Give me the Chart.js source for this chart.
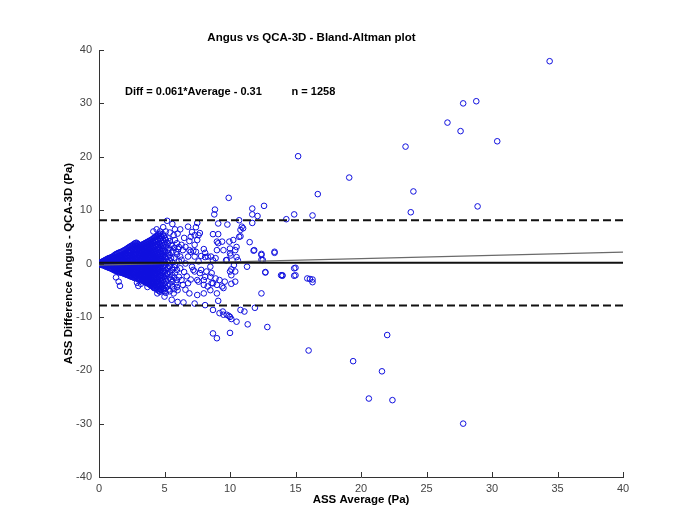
<!DOCTYPE html>
<html>
<head>
<meta charset="utf-8">
<script src="https://cdn.jsdelivr.net/npm/chart.js@4"></script>
<style>
  html, body { margin: 0; padding: 0; background: #ffffff; }
  #c { display: block; }
</style>
</head>
<body>
<canvas id="c" width="673" height="527"></canvas>
<script>
// ---- Data ----
const chartTitle = 'Angus vs QCA-3D - Bland-Altman plot';
const xTitle = 'ASS Average (Pa)';
const yTitle = 'ASS Difference Angus - QCA-3D (Pa)';
const fitLabel = 'Diff = 0.061*Average - 0.31';
const nLabel = 'n = 1258';
const fitLabelPos = [1.98, 32.06];
const nLabelPos = [14.7, 32.06];

const xTicks = [0, 5, 10, 15, 20, 25, 30, 35, 40];
const yTicks = [-40, -30, -20, -10, 0, 10, 20, 30, 40];

const meanDiff = 0.12;
const loaUpper = 8.12;
const loaLower = -7.88;
const fitSlope = 0.061;
const fitIntercept = -0.31;
const lineRange = [0, 40];

// dense cluster near the origin: [average, [differences...]]
const clusterCols = [
  [0.05, [0, 0.1, -0.1]],
  [0.15, [0.2, -0.2, 0]],
  [0.22, [0.15, -0.1, 0.3, -0.3]],
  [0.3, [0.4, -0.3, 0.1, -0.1]],
  [0.37, [0.5, 0.2, -0.05, -0.35]],
  [0.45, [0.6, -0.5, 0.2, -0.2]],
  [0.52, [0.7, 0.4, 0.05, -0.3, -0.55]],
  [0.6, [0.8, 0.3, -0.1, -0.6]],
  [0.67, [0.9, 0.55, 0.15, -0.3, -0.7]],
  [0.75, [1.0, 0.5, 0, -0.4, -0.8]],
  [0.82, [1.05, 0.75, 0.35, -0.15, -0.55, -0.85]],
  [0.9, [1.1, 0.6, 0.2, -0.3, -0.9]],
  [0.97, [1.2, 0.85, 0.4, -0.05, -0.5, -1.0]],
  [1.05, [1.3, 0.8, 0.3, -0.2, -0.6, -1.1]],
  [1.12, [1.4, 1.05, 0.55, 0.1, -0.35, -0.8, -1.2]],
  [1.2, [1.6, 1.0, 0.5, 0, -0.5, -1.0, -1.3]],
  [1.27, [1.7, 1.25, 0.75, 0.25, -0.25, -0.7, -1.15, -1.35]],
  [1.35, [1.8, 1.1, 0.6, 0.1, -0.4, -0.9, -1.4]],
  [1.42, [1.9, 1.35, 0.85, 0.35, -0.15, -0.65, -1.15, -1.5]],
  [1.5, [2.0, 1.3, 0.7, 0.2, -0.3, -0.8, -1.3, -1.6]],
  [1.57, [2.05, 1.55, 1.0, 0.45, -0.05, -0.55, -1.05, -1.45, -1.7]],
  [1.65, [2.1, 1.4, 0.9, 0.4, -0.1, -0.6, -1.1, -1.6]],
  [1.72, [2.2, 1.65, 1.15, 0.65, 0.15, -0.35, -0.85, -1.35, -1.7]],
  [1.8, [2.3, 1.5, 1.0, 0.5, 0, -0.5, -1.0, -1.5, -1.8]],
  [1.87, [2.4, 1.8, 1.25, 0.75, 0.25, -0.25, -0.75, -1.25, -1.65, -1.85]],
  [1.95, [2.5, 1.7, 1.2, 0.6, 0.1, -0.4, -0.9, -1.4, -1.9]],
  [2.02, [2.6, 2.0, 1.45, 0.9, 0.35, -0.15, -0.65, -1.15, -1.65, -2.0]],
  [2.1, [2.7, 2.0, 1.4, 0.8, 0.3, -0.2, -0.7, -1.2, -1.7, -2.1]],
  [2.17, [2.85, 2.3, 1.7, 1.1, 0.55, 0.05, -0.45, -0.95, -1.45, -1.9, -2.15]],
  [2.25, [2.95, 2.2, 1.6, 1.0, 0.4, -0.1, -0.6, -1.1, -1.6, -2.2]],
  [2.32, [3.1, 2.55, 1.95, 1.35, 0.75, 0.2, -0.3, -0.8, -1.3, -1.8, -2.3]],
  [2.4, [3.2, 2.5, 1.9, 1.3, 0.7, 0.1, -0.4, -0.9, -1.5, -2.0, -2.4]],
  [2.47, [3.3, 2.85, 2.2, 1.6, 1.0, 0.45, -0.1, -0.6, -1.15, -1.7, -2.2, -2.45]],
  [2.55, [3.4, 2.7, 2.0, 1.4, 0.8, 0.2, -0.3, -0.8, -1.4, -1.9, -2.5]],
  [2.62, [3.55, 3.1, 2.4, 1.75, 1.15, 0.55, 0.0, -0.5, -1.05, -1.6, -2.15, -2.6]],
  [2.7, [3.7, 3.0, 2.3, 1.6, 1.0, 0.4, -0.2, -0.7, -1.3, -1.9, -2.4, -2.7]],
  [2.77, [3.8, 3.35, 2.65, 1.95, 1.3, 0.7, 0.1, -0.45, -1.0, -1.6, -2.2, -2.6]],
  [2.85, [3.9, 3.2, 2.5, 1.8, 1.1, 0.5, -0.1, -0.7, -1.3, -1.9, -2.5]],
  [2.92, [3.75, 3.25, 2.55, 1.85, 1.2, 0.6, 0.0, -0.6, -1.2, -1.8, -2.4, -2.85]],
  [3.0, [3.6, 2.9, 2.2, 1.5, 0.9, 0.3, -0.3, -0.9, -1.5, -2.1, -2.7, -3.0]],
  [3.07, [3.5, 3.05, 2.35, 1.65, 1.0, 0.4, -0.2, -0.8, -1.4, -2.0, -2.6, -3.0]],
  [3.15, [3.4, 2.7, 2.0, 1.3, 0.7, 0.1, -0.5, -1.1, -1.7, -2.3, -2.9]],
  [3.22, [3.45, 3.1, 2.4, 1.7, 1.05, 0.45, -0.15, -0.75, -1.35, -1.95, -2.55, -3.05]],
  [3.3, [3.5, 2.8, 2.1, 1.4, 0.8, 0.2, -0.4, -1.0, -1.6, -2.2, -2.8, -3.2]],
  [3.37, [3.6, 3.15, 2.45, 1.75, 1.1, 0.5, -0.1, -0.7, -1.3, -1.9, -2.5, -3.1, -3.35]],
  [3.45, [3.7, 3.0, 2.3, 1.6, 0.9, 0.3, -0.3, -0.9, -1.5, -2.1, -2.7, -3.3]],
  [3.52, [3.8, 3.35, 2.65, 1.95, 1.25, 0.6, 0.0, -0.6, -1.2, -1.8, -2.4, -3.0, -3.5]],
  [3.6, [3.9, 3.2, 2.4, 1.7, 1.0, 0.4, -0.2, -0.8, -1.4, -2.0, -2.6, -3.2, -3.6]],
  [3.67, [4.0, 3.55, 2.8, 2.1, 1.4, 0.75, 0.15, -0.45, -1.05, -1.65, -2.25, -2.85, -3.45, -3.7]],
  [3.75, [4.1, 3.3, 2.6, 1.8, 1.1, 0.5, -0.1, -0.7, -1.3, -1.9, -2.5, -3.1, -3.7]],
  [3.82, [4.2, 3.7, 2.95, 2.2, 1.5, 0.85, 0.25, -0.35, -0.95, -1.55, -2.15, -2.75, -3.35, -3.85]],
  [3.9, [4.3, 3.5, 2.7, 1.9, 1.2, 0.6, 0, -0.6, -1.2, -1.8, -2.4, -3.0, -3.6, -4.0]],
  [3.97, [4.4, 3.9, 3.1, 2.35, 1.6, 0.95, 0.3, -0.35, -1.0, -1.65, -2.3, -2.95, -3.6, -4.1]],
  [4.05, [4.5, 3.6, 2.8, 2.0, 1.3, 0.6, -0.1, -0.8, -1.5, -2.2, -2.9, -3.6, -4.2]],
  [4.12, [4.65, 4.1, 3.25, 2.45, 1.7, 1.0, 0.3, -0.4, -1.1, -1.8, -2.5, -3.2, -3.85, -4.4]],
  [4.2, [4.8, 3.9, 3.0, 2.2, 1.4, 0.7, 0, -0.7, -1.4, -2.1, -2.8, -3.5, -4.1, -4.6]],
  [4.27, [4.9, 4.3, 3.45, 2.6, 1.8, 1.05, 0.35, -0.35, -1.05, -1.75, -2.45, -3.2, -3.95, -4.6]],
  [4.35, [5.0, 4.1, 3.2, 2.3, 1.5, 0.8, 0.1, -0.6, -1.3, -2.0, -2.8, -3.6, -4.4]],
  [4.42, [5.15, 4.5, 3.6, 2.75, 1.95, 1.2, 0.45, -0.3, -1.05, -1.85, -2.65, -3.45, -4.25, -4.9]],
  [4.5, [5.3, 4.3, 3.4, 2.5, 1.6, 0.8, 0, -0.8, -1.6, -2.4, -3.2, -4.0, -4.8]],
  [4.57, [5.45, 4.75, 3.85, 2.95, 2.1, 1.3, 0.5, -0.3, -1.1, -1.9, -2.7, -3.5, -4.3, -5.1]],
  [4.65, [5.6, 4.6, 3.6, 2.6, 1.7, 0.9, 0.1, -0.7, -1.5, -2.3, -3.1, -3.9, -4.7, -5.3]],
  [4.72, [5.2, 4.3, 3.3, 2.3, 1.35, 0.45, -0.45, -1.35, -2.25, -3.15, -4.05, -4.95]],
  [4.8, [4.9, 3.8, 2.8, 1.8, 0.9, 0, -0.9, -1.8, -2.7, -3.6, -4.5]],
  [4.87, [5.5, 4.4, 3.3, 2.25, 1.3, 0.4, -0.5, -1.4, -2.3, -3.2, -4.1, -5.1]],
  [4.95, [5.2, 3.9, 2.6, 1.5, 0.6, -0.4, -1.4, -2.5, -3.6, -4.8]],
  [5.02, [4.8, 3.6, 2.3, 1.2, 0.2, -0.8, -1.8, -2.9, -4.1, -5.2]],
  [5.1, [4.4, 3.1, 1.9, 0.8, -0.3, -1.3, -2.3, -3.4, -4.6, -5.5]],
  [5.25, [3.8, 2.5, 1.3, 0.3, -0.8, -1.9, -3.0, -4.2]],
  [5.4, [4.2, 2.8, 1.6, 0.5, -0.5, -1.6, -2.6, -3.8, -5.2]],
  [5.6, [3.3, 2.2, 0.2, -0.9, -2.2, -3.4]],
  [5.75, [2.9, 1.1, -0.7, -2.6, -4.8]],
  [5.95, [3.8, 1.7, -1.2, -3.1, -4.4]]
];

// scattered points between roughly 5 and 15 Pa
const spreadPoints = [
  [5.2, 8.0], [5.6, 7.4], [5.8, 6.4], [4.9, 6.8], [4.65, 6.0], [4.15, 6.0], [4.4, 6.4],
  [6.3, 3.5], [6.6, 3.1], [6.05, 2.7], [7.0, 2.2], [7.2, 2.4], [7.8, 1.4], [8.1, 1.2], [8.55, 1.3],
  [5.3, 4.7], [5.7, 5.3], [5.8, 4.4], [5.5, 3.5], [6.1, 3.1], [6.4, 2.5], [5.9, 2.2], [6.2, 1.3],
  [6.1, 0.4], [5.8, -0.3], [6.3, 0.7], [6.8, 1.3], [6.2, -0.9], [5.8, -1.8], [6.1, -2.5], [6.3, -3.1],
  [5.9, -3.7], [5.6, -4.3], [5.3, -4.9], [5.7, -5.6], [6.4, -4.0], [6.8, -3.7], [6.6, -4.9], [6.9, -5.6],
  [7.3, 3.5], [6.9, 2.5], [7.3, 1.3], [7.6, 0.4], [7.1, -0.6], [7.3, -1.5], [7.8, -1.2], [8.1, -2.5],
  [7.6, -3.4], [8.0, -4.0], [8.3, -4.3], [8.6, -3.7], [8.9, -2.8], [8.6, -1.8], [8.5, -0.6], [8.7, 0.6],
  [8.3, 1.3], [10.0, 1.9], [10.4, 2.5], [9.7, 0.6], [10.3, -0.3], [10.6, 0.6], [10.4, -1.5],
  [10.1, -2.2], [9.6, -3.4], [10.4, -3.4], [9.4, -4.3], [9.0, -5.6],
  [4.45, -5.6], [5.55, -6.8], [6.0, -7.2], [6.45, -7.3], [7.3, -7.5],
  [1.3, -2.6], [1.5, -3.4], [1.6, -4.2], [2.9, -3.6], [3.2, -3.8], [3.7, -4.4], [3.0, -4.2],
  [5.3, 2.0], [5.5, 1.0], [5.4, -0.5], [5.6, -1.2], [5.2, -2.0], [5.5, -3.0], [6.6, 0.0], [6.5, -1.6],
  [6.7, -2.4], [7.0, -3.0], [6.0, -5.0], [5.0, -6.2], [5.1, 6.0], [5.4, 5.8], [6.0, 5.6], [6.5, 4.8],
  [6.9, 4.2], [6.2, 6.4], [6.8, 6.9], [7.4, 6.8],
  [9.9, 12.3], [8.85, 10.1], [8.8, 9.2], [11.7, 10.3], [11.7, 9.2], [12.6, 10.8], [12.1, 8.9],
  [7.5, 7.6], [9.1, 7.5], [9.8, 7.3], [10.7, 8.1], [11.7, 7.6],
  [7.1, 5.9], [7.3, 5.3], [7.6, 5.3], [7.0, 5.0], [7.7, 5.7], [7.5, 4.4],
  [8.7, 5.5], [9.1, 5.5], [10.8, 6.3], [11.0, 6.6], [10.9, 6.9], [10.7, 5.0], [10.8, 5.1],
  [9.0, 4.1], [9.4, 4.1], [9.95, 4.1], [10.25, 4.4], [9.1, 3.8], [11.5, 4.0],
  [8.0, 2.7], [7.4, 2.2], [8.1, 2.0], [9.0, 2.5], [9.5, 2.5], [10.0, 2.8], [10.5, 3.1],
  [11.8, 2.4], [12.4, 1.8], [13.4, 2.2], [11.85, 2.5], [12.4, 1.6], [13.4, 2.0], [12.5, 0.65],
  [8.9, 1.0], [9.75, 0.65], [10.05, 1.5], [10.5, 1.2], [12.4, 0.7],
  [11.3, -0.6], [12.7, -1.7], [14.0, -2.3], [12.7, -1.6], [13.9, -2.2], [14.9, -0.9], [14.9, -2.3],
  [10.1, -1.1], [10.0, -1.5], [7.2, -1.2], [7.7, -1.8], [8.2, -1.5], [8.5, -2.5], [7.5, -3.1], [8.0, -3.1],
  [8.7, -3.7], [9.0, -4.0], [9.2, -3.1], [9.5, -4.6], [8.5, -5.0], [8.0, -5.6], [10.1, -3.8], [12.4, -5.6],
  [7.5, -5.9], [8.1, -7.8],
  [8.7, -8.7], [9.2, -9.3], [9.5, -9.6], [9.75, -9.6], [10.0, -10.0], [10.5, -10.9], [9.1, -7.0],
  [9.45, -9.0], [9.9, -9.8], [10.1, -10.4], [10.8, -8.7], [11.1, -9.0], [11.9, -8.3],
  [11.35, -11.4], [12.85, -11.9], [8.7, -13.1], [9.0, -14.0], [10.0, -13.0]
];

// isolated points at large averages
const outlierPoints = [
  [34.4, 37.9], [27.8, 30.0], [28.8, 30.4], [26.6, 26.4], [27.6, 24.8], [30.4, 22.9], [23.4, 21.9],
  [15.2, 20.1], [19.1, 16.1], [16.7, 13.0], [24.0, 13.5], [28.9, 10.7], [23.8, 9.6], [16.3, 9.0],
  [14.9, 9.2], [14.3, 8.3],
  [14.0, -2.2], [15.0, -0.8], [15.0, -2.2], [15.9, -2.8], [16.1, -2.9], [16.3, -3.0], [16.3, -3.5],
  [22.0, -13.4], [16.0, -16.3], [19.4, -18.3], [21.6, -20.2], [20.6, -25.3], [22.4, -25.6], [27.8, -30.0]
];

// ---- Build the chart ----
const scatterData = [];
clusterCols.forEach(([avg, diffs]) => diffs.forEach(d => scatterData.push({ x: avg, y: d })));
spreadPoints.forEach(([a, d]) => scatterData.push({ x: a, y: d }));
outlierPoints.forEach(([a, d]) => scatterData.push({ x: a, y: d }));

const hLine = v => lineRange.map(a => ({ x: a, y: v }));
const fitLine = lineRange.map(a => ({ x: a, y: fitSlope * a + fitIntercept }));

const FONT = '"Liberation Sans", Arial, Helvetica, sans-serif';

const overlay = {
  id: 'overlay',
  afterDatasetsDraw(chart) {
    const { ctx, chartArea } = chart;
    const xs = chart.scales.x, ys = chart.scales.y;
    ctx.save();
    ctx.strokeStyle = '#333';
    ctx.lineWidth = 1;
    xTicks.forEach(v => {
      const px = Math.round(xs.getPixelForValue(v)) + 0.5;
      ctx.beginPath(); ctx.moveTo(px, chartArea.bottom); ctx.lineTo(px, chartArea.bottom - 5); ctx.stroke();
    });
    yTicks.forEach(v => {
      const py = Math.round(ys.getPixelForValue(v)) + 0.5;
      ctx.beginPath(); ctx.moveTo(chartArea.left, py); ctx.lineTo(chartArea.left + 5, py); ctx.stroke();
    });
    ctx.fillStyle = '#000';
    ctx.font = 'bold 11px ' + FONT;
    ctx.textBaseline = 'middle';
    ctx.textAlign = 'left';
    ctx.fillText(fitLabel, xs.getPixelForValue(fitLabelPos[0]), ys.getPixelForValue(fitLabelPos[1]));
    ctx.fillText(nLabel, xs.getPixelForValue(nLabelPos[0]), ys.getPixelForValue(nLabelPos[1]));
    ctx.restore();
  }
};

new Chart(document.getElementById('c'), {
  type: 'scatter',
  data: {
    datasets: [
      { data: hLine(meanDiff), showLine: true, borderColor: '#111', borderWidth: 2, pointRadius: 0, order: 0 },
      { data: fitLine, showLine: true, borderColor: '#6a6a6a', borderWidth: 1.2, pointRadius: 0, order: 0 },
      { data: hLine(loaUpper), showLine: true, borderColor: '#111', borderWidth: 2, borderDash: [8, 4], pointRadius: 0, order: 0 },
      { data: hLine(loaLower), showLine: true, borderColor: '#111', borderWidth: 2, borderDash: [8, 4], pointRadius: 0, order: 0 },
      { data: scatterData, pointStyle: 'circle', pointRadius: 2.8, borderWidth: 1,
        borderColor: 'rgb(15,15,222)', backgroundColor: 'rgba(0,0,0,0)', order: 1 }
    ]
  },
  options: {
    responsive: false,
    devicePixelRatio: 1,
    animation: false,
    events: [],
    layout: { padding: { left: 0, right: 50, top: 0, bottom: 0 } },
    plugins: {
      legend: { display: false },
      tooltip: { enabled: false },
      title: {
        display: true, text: chartTitle, color: '#000',
        font: { family: FONT, size: 11.5, weight: 'bold' },
        padding: { top: 31, bottom: 5.2 }
      }
    },
    scales: {
      x: {
        type: 'linear', min: 0, max: 40,
        afterBuildTicks: s => { s.ticks = xTicks.map(v => ({ value: v })); },
        afterFit: s => { s.height = 50; },
        grid: { display: false, drawTicks: false },
        border: { display: true, color: '#333', width: 1 },
        ticks: { padding: 5, color: '#444', font: { family: FONT, size: 11 }, maxRotation: 0 },
        title: { display: true, text: xTitle, color: '#000', font: { family: FONT, size: 11.5, weight: 'bold' },
                 padding: { top: 0, bottom: 20 } }
      },
      y: {
        type: 'linear', min: -40, max: 40,
        afterBuildTicks: s => { s.ticks = yTicks.map(v => ({ value: v })); },
        afterFit: s => { s.width = 99; },
        grid: { display: false, drawTicks: false },
        border: { display: true, color: '#333', width: 1 },
        ticks: { padding: 7, color: '#444', font: { family: FONT, size: 11 } },
        title: { display: true, text: yTitle, color: '#000', font: { family: FONT, size: 11.5, weight: 'bold' },
                 padding: { top: 61.5, bottom: 0 } }
      }
    }
  },
  plugins: [overlay]
});
</script>
</body>
</html>
